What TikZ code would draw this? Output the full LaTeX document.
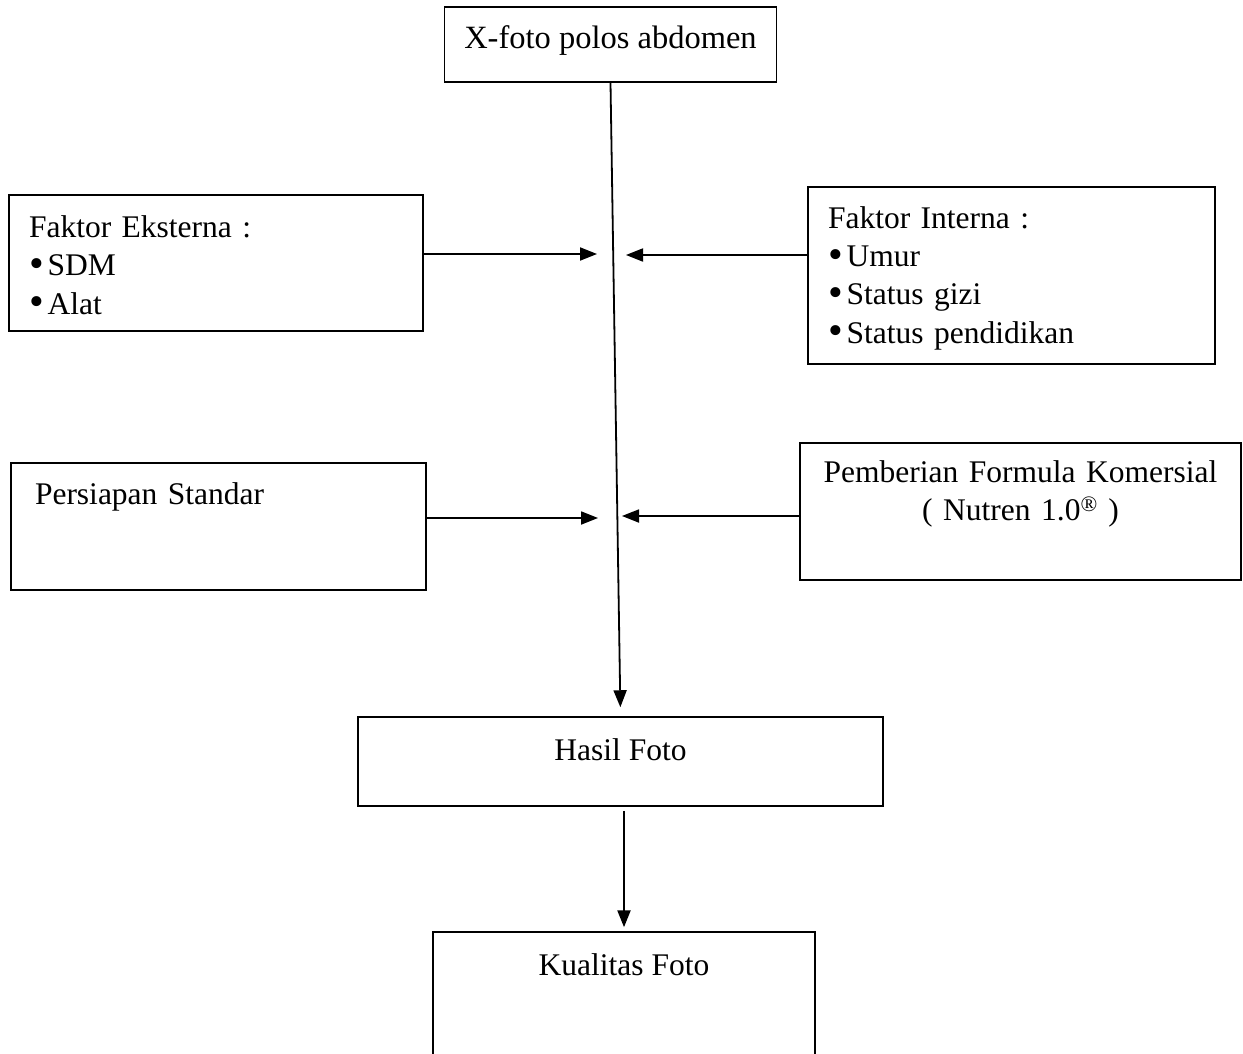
\documentclass[tikz,border=0pt]{standalone}
\usepackage{fontspec}
\setmainfont{Liberation Serif}
\usetikzlibrary{arrows.meta}
\newcommand{\dotitem}{\raisebox{-1.5pt}{\fontsize{42}{38.5}\selectfont\textbullet}\hspace{4pt}}
\begin{document}
\begin{tikzpicture}[x=1pt, y=-1pt,
        box/.style={draw, line width=1.5pt, inner xsep=20pt, inner ysep=0pt, text height=21pt, font=\fontsize{31.5}{38.5}\selectfont},
        link/.style={-{Triangle[length=17pt, width=13pt]}, line width=1.8pt}]
        \path[use as bounding box, clip] (0, 0) rectangle (1243, 1054);
        \draw (610.5, 44.5) node[box, minimum width=331pt, minimum height=75pt, text depth=12pt, font=\fontsize{32.5}{38.5}\selectfont](foto){X-foto polos abdomen}
        (216, 263) node[box, text width=374pt, minimum height=136pt, text depth=73pt, align=left](eks){Faktor Eksterna :\\ \dotitem SDM\\ \dotitem Alat}
        (1011.5, 275.5) node[box, text width=367pt, minimum height=177pt, text depth=116pt, align=left](int){Faktor Interna :\\ \dotitem Umur\\ \dotitem Status gizi\\ \dotitem Status pendidikan}
        (218.5, 526.5) node[box, inner xsep=24pt, text width=367pt, minimum height=127pt, text depth=66pt, align=left](pers){Persiapan Standar}
        (1020.5, 511.5) node[box, text width=401pt, minimum height=137pt, text depth=80pt, align=center](pemb){Pemberian Formula Komersial\\ ( Nutren 1.0\textsuperscript{\textregistered} )}
        (620.5, 761.5) node[box, minimum width=525pt, minimum height=89pt, text depth=24pt](hasil){Hasil Foto}
        (624, 997) node[box, minimum width=382pt, minimum height=130pt, text depth=65pt](kual){Kualitas Foto};
        \coordinate (l1) at (597, 254);
        \coordinate (r1) at (626, 255);
        \coordinate (l2) at (598, 518);
        \coordinate (r2) at (622, 516);
        \draw[link] (eks.east |- l1) -- (l1);
        \draw[link] (int.west |- r1) -- (r1);
        \draw[link] (pers.east |- l2) -- (l2);
        \draw[link] (pemb.west |- r2) -- (r2);
        \draw[link, shorten >=9pt] (foto.south) -- (hasil.north);
        \draw[link, line width=2.4pt, shorten <=4pt, shorten >=4pt] (hasil.south -| kual.north) -- (kual.north);
    \end{tikzpicture}
\end{document}
